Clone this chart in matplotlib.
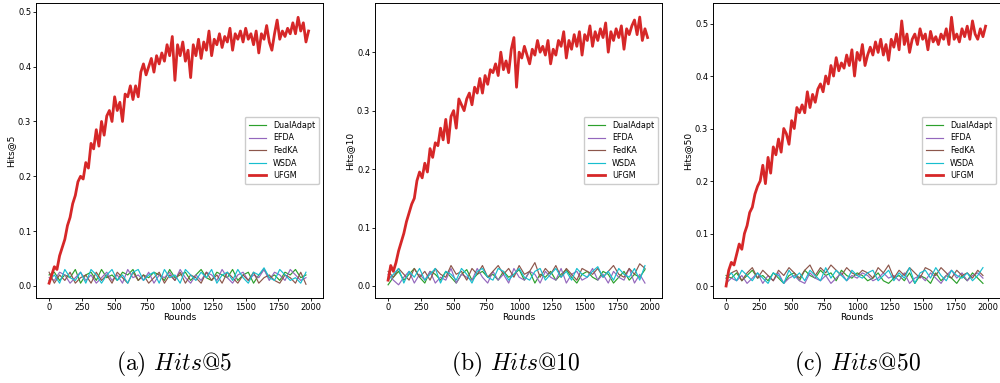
import numpy as np
import matplotlib
matplotlib.use('Agg')
from matplotlib import pyplot as plt

plt.rcParams['font.family'] = 'DejaVu Sans'
plt.rcParams['mathtext.fontset'] = 'cm'

# rounds for UFGM (every 20) and for the baselines (every 40)
rounds_ufgm = list(range(0, 2000, 20))
rounds_base = list(range(0, 2000, 40))

methods = ['DualAdapt', 'EFDA', 'FedKA', 'WSDA', 'UFGM']
colors = ['#2ca02c', '#9467bd', '#8c564b', '#17becf', '#d62728']
ylabels = ['Hits@5', 'Hits@10', 'Hits@50']
captions = ['(a) $Hits$@5', '(b) $Hits$@10', '(c) $Hits$@50']

# ---- Hits@5 ----
ufgm_h5 = [0.005, 0.020, 0.035, 0.030, 0.055, 0.070, 0.085, 0.110, 0.125, 0.150,
           0.165, 0.190, 0.200, 0.195, 0.225, 0.215, 0.260, 0.250, 0.285, 0.255,
           0.300, 0.275, 0.310, 0.320, 0.300, 0.345, 0.320, 0.335, 0.300, 0.350,
           0.345, 0.365, 0.340, 0.365, 0.345, 0.390, 0.405, 0.385, 0.400, 0.415,
           0.390, 0.420, 0.405, 0.425, 0.410, 0.440, 0.420, 0.455, 0.375, 0.440,
           0.420, 0.445, 0.410, 0.430, 0.380, 0.440, 0.420, 0.450, 0.415, 0.445,
           0.430, 0.465, 0.420, 0.450, 0.440, 0.460, 0.435, 0.455, 0.445, 0.470,
           0.430, 0.460, 0.450, 0.465, 0.445, 0.470, 0.450, 0.460, 0.440, 0.465,
           0.425, 0.460, 0.450, 0.475, 0.445, 0.430, 0.460, 0.485, 0.450, 0.465,
           0.455, 0.470, 0.460, 0.480, 0.460, 0.490, 0.465, 0.480, 0.445, 0.465]
dual_h5 = [0.020, 0.025, 0.010, 0.020, 0.015, 0.030, 0.005, 0.020, 0.025, 0.010,
           0.030, 0.015, 0.020, 0.010, 0.025, 0.020, 0.030, 0.010, 0.020, 0.015,
           0.025, 0.020, 0.010, 0.030, 0.015, 0.020, 0.025, 0.010, 0.020, 0.030,
           0.015, 0.010, 0.025, 0.020, 0.015, 0.030, 0.010, 0.020, 0.025, 0.005,
           0.020, 0.030, 0.015, 0.020, 0.010, 0.025, 0.020, 0.030, 0.015, 0.020]
efda_h5 = [0.015, 0.010, 0.025, 0.020, 0.005, 0.015, 0.025, 0.010, 0.020, 0.005,
           0.015, 0.025, 0.010, 0.020, 0.005, 0.030, 0.015, 0.020, 0.010, 0.025,
           0.005, 0.020, 0.015, 0.025, 0.010, 0.030, 0.015, 0.005, 0.020, 0.010,
           0.025, 0.020, 0.010, 0.030, 0.015, 0.005, 0.020, 0.025, 0.010, 0.020,
           0.015, 0.030, 0.010, 0.025, 0.020, 0.010, 0.030, 0.020, 0.010, 0.015]
fedka_h5 = [0.025, 0.005, 0.020, 0.010, 0.025, 0.005, 0.015, 0.020, 0.005, 0.025,
            0.010, 0.020, 0.005, 0.025, 0.015, 0.005, 0.025, 0.010, 0.020, 0.005,
            0.015, 0.025, 0.005, 0.020, 0.010, 0.025, 0.005, 0.020, 0.015, 0.005,
            0.025, 0.010, 0.020, 0.005, 0.025, 0.015, 0.005, 0.020, 0.010, 0.025,
            0.005, 0.015, 0.020, 0.010, 0.005, 0.020, 0.015, 0.005, 0.025, 0.003]
wsda_h5 = [0.010, 0.020, 0.005, 0.030, 0.015, 0.010, 0.025, 0.005, 0.030, 0.020,
           0.005, 0.020, 0.030, 0.010, 0.020, 0.005, 0.025, 0.030, 0.010, 0.020,
           0.025, 0.005, 0.030, 0.015, 0.020, 0.005, 0.030, 0.020, 0.010, 0.025,
           0.015, 0.030, 0.005, 0.020, 0.025, 0.010, 0.030, 0.015, 0.005, 0.025,
           0.020, 0.033, 0.015, 0.010, 0.030, 0.020, 0.010, 0.015, 0.005, 0.025]

# ---- Hits@10 ----
ufgm_h10 = [0.010, 0.035, 0.025, 0.040, 0.060, 0.075, 0.090, 0.110, 0.125, 0.140,
            0.150, 0.180, 0.195, 0.185, 0.210, 0.195, 0.235, 0.220, 0.245, 0.240,
            0.270, 0.250, 0.285, 0.245, 0.290, 0.300, 0.270, 0.320, 0.310, 0.300,
            0.320, 0.330, 0.310, 0.340, 0.330, 0.355, 0.330, 0.360, 0.345, 0.370,
            0.365, 0.380, 0.360, 0.400, 0.370, 0.385, 0.365, 0.405, 0.425, 0.340,
            0.400, 0.390, 0.410, 0.395, 0.380, 0.405, 0.395, 0.420, 0.400, 0.410,
            0.395, 0.420, 0.380, 0.405, 0.395, 0.420, 0.410, 0.435, 0.390, 0.420,
            0.405, 0.430, 0.410, 0.435, 0.395, 0.430, 0.420, 0.445, 0.410, 0.435,
            0.420, 0.440, 0.425, 0.450, 0.400, 0.435, 0.420, 0.440, 0.425, 0.445,
            0.405, 0.440, 0.430, 0.445, 0.455, 0.430, 0.460, 0.420, 0.440, 0.425]
dual_h10 = [0.002, 0.015, 0.025, 0.010, 0.020, 0.030, 0.015, 0.005, 0.025, 0.020,
            0.010, 0.025, 0.015, 0.005, 0.020, 0.028, 0.010, 0.020, 0.025, 0.015,
            0.020, 0.010, 0.025, 0.015, 0.020, 0.028, 0.010, 0.025, 0.005, 0.020,
            0.015, 0.025, 0.010, 0.020, 0.028, 0.015, 0.005, 0.020, 0.025, 0.015,
            0.010, 0.025, 0.020, 0.005, 0.015, 0.025, 0.010, 0.020, 0.015, 0.028]
efda_h10 = [0.020, 0.010, 0.002, 0.015, 0.025, 0.005, 0.020, 0.010, 0.025, 0.005,
            0.015, 0.010, 0.030, 0.005, 0.020, 0.015, 0.010, 0.030, 0.015, 0.005,
            0.025, 0.010, 0.020, 0.005, 0.030, 0.015, 0.010, 0.025, 0.020, 0.005,
            0.025, 0.015, 0.010, 0.030, 0.005, 0.020, 0.025, 0.010, 0.015, 0.030,
            0.010, 0.020, 0.005, 0.025, 0.015, 0.010, 0.030, 0.005, 0.020, 0.005]
fedka_h10 = [0.025, 0.015, 0.030, 0.020, 0.010, 0.030, 0.015, 0.025, 0.010, 0.030,
             0.020, 0.015, 0.035, 0.020, 0.025, 0.010, 0.030, 0.020, 0.035, 0.015,
             0.025, 0.035, 0.020, 0.030, 0.015, 0.035, 0.020, 0.025, 0.040, 0.015,
             0.030, 0.020, 0.035, 0.015, 0.030, 0.020, 0.010, 0.030, 0.025, 0.020,
             0.030, 0.015, 0.025, 0.035, 0.020, 0.015, 0.030, 0.020, 0.038, 0.030]
wsda_h10 = [0.010, 0.020, 0.030, 0.005, 0.025, 0.015, 0.030, 0.010, 0.020, 0.030,
            0.005, 0.025, 0.020, 0.010, 0.030, 0.020, 0.005, 0.025, 0.030, 0.015,
            0.010, 0.030, 0.025, 0.010, 0.020, 0.030, 0.015, 0.010, 0.025, 0.030,
            0.010, 0.020, 0.030, 0.015, 0.025, 0.010, 0.030, 0.020, 0.015, 0.025,
            0.033, 0.015, 0.025, 0.010, 0.030, 0.020, 0.015, 0.030, 0.010, 0.035]

# ---- Hits@50 ----
ufgm_h50 = [0.000, 0.030, 0.045, 0.040, 0.060, 0.080, 0.070, 0.100, 0.115, 0.140,
            0.150, 0.175, 0.190, 0.200, 0.230, 0.195, 0.245, 0.215, 0.265, 0.250,
            0.280, 0.255, 0.300, 0.290, 0.270, 0.315, 0.300, 0.340, 0.330, 0.345,
            0.330, 0.370, 0.340, 0.365, 0.350, 0.375, 0.385, 0.370, 0.400, 0.385,
            0.420, 0.400, 0.435, 0.410, 0.425, 0.415, 0.440, 0.420, 0.450, 0.400,
            0.445, 0.430, 0.460, 0.420, 0.440, 0.455, 0.440, 0.465, 0.445, 0.470,
            0.440, 0.460, 0.430, 0.470, 0.455, 0.480, 0.450, 0.505, 0.460, 0.480,
            0.445, 0.470, 0.480, 0.460, 0.490, 0.470, 0.480, 0.450, 0.485, 0.465,
            0.475, 0.460, 0.480, 0.470, 0.490, 0.460, 0.512, 0.470, 0.480, 0.465,
            0.490, 0.475, 0.495, 0.470, 0.505, 0.480, 0.470, 0.490, 0.475, 0.495]
dual_h50 = [0.020, 0.015, 0.025, 0.010, 0.020, 0.030, 0.015, 0.020, 0.010, 0.025,
            0.015, 0.005, 0.020, 0.025, 0.010, 0.030, 0.020, 0.015, 0.030, 0.020,
            0.025, 0.010, 0.030, 0.020, 0.015, 0.025, 0.020, 0.010, 0.015, 0.025,
            0.010, 0.005, 0.015, 0.020, 0.010, 0.025, 0.005, 0.020, 0.015, 0.005,
            0.025, 0.010, 0.020, 0.015, 0.005, 0.020, 0.010, 0.025, 0.015, 0.005]
efda_h50 = [0.005, 0.015, 0.010, 0.020, 0.005, 0.015, 0.025, 0.005, 0.020, 0.010,
            0.025, 0.005, 0.015, 0.020, 0.010, 0.005, 0.025, 0.015, 0.010, 0.020,
            0.005, 0.015, 0.025, 0.010, 0.020, 0.015, 0.025, 0.020, 0.010, 0.015,
            0.025, 0.015, 0.020, 0.010, 0.025, 0.005, 0.015, 0.020, 0.010, 0.025,
            0.015, 0.005, 0.020, 0.030, 0.015, 0.025, 0.010, 0.020, 0.025, 0.015]
fedka_h50 = [0.015, 0.025, 0.030, 0.010, 0.025, 0.035, 0.015, 0.030, 0.020, 0.010,
             0.030, 0.020, 0.035, 0.025, 0.015, 0.030, 0.040, 0.020, 0.035, 0.025,
             0.040, 0.030, 0.020, 0.035, 0.025, 0.020, 0.030, 0.025, 0.015, 0.035,
             0.025, 0.040, 0.015, 0.030, 0.020, 0.035, 0.025, 0.015, 0.035, 0.030,
             0.020, 0.035, 0.025, 0.015, 0.030, 0.020, 0.025, 0.015, 0.030, 0.020]
wsda_h50 = [0.015, 0.025, 0.010, 0.030, 0.020, 0.010, 0.025, 0.015, 0.005, 0.025,
            0.020, 0.005, 0.030, 0.015, 0.025, 0.010, 0.030, 0.020, 0.010, 0.035,
            0.015, 0.030, 0.020, 0.010, 0.030, 0.020, 0.015, 0.025, 0.030, 0.010,
            0.020, 0.030, 0.010, 0.025, 0.015, 0.035, 0.005, 0.025, 0.030, 0.015,
            0.035, 0.020, 0.010, 0.030, 0.020, 0.015, 0.025, 0.010, 0.020, 0.035]

panels = [
    [dual_h5, efda_h5, fedka_h5, wsda_h5, ufgm_h5],
    [dual_h10, efda_h10, fedka_h10, wsda_h10, ufgm_h10],
    [dual_h50, efda_h50, fedka_h50, wsda_h50, ufgm_h50],
]
ylims = [(-0.022, 0.516), (-0.0205, 0.484), (-0.0228, 0.539)]
lefts = [0.036, 0.375, 0.713]
cap_x = [0.174, 0.516, 0.857]

fig = plt.figure(figsize=(10, 3.83), dpi=100)

for i in range(3):
    ax = fig.add_axes([lefts[i], 0.222, 0.287, 0.770])
    series = panels[i]
    for j in range(4):
        ax.plot(rounds_base, series[j], color=colors[j], lw=0.85, label=methods[j])
    ax.plot(rounds_ufgm, series[4], color=colors[4], lw=2.0, label=methods[4])
    ax.set_xlim(-100, 2090)
    ax.set_ylim(ylims[i])
    ax.set_xticks([0, 250, 500, 750, 1000, 1250, 1500, 1750, 2000])
    ax.tick_params(labelsize=6, length=2, width=0.6, pad=1.5)
    ax.set_xlabel('Rounds', fontsize=6.5, labelpad=0.5)
    ax.set_ylabel(ylabels[i], fontsize=6.5, labelpad=2)
    for s in ax.spines.values():
        s.set_linewidth(0.7)
    ax.legend(loc='center right', fontsize=5.8, handlelength=2.2, borderpad=0.5,
              labelspacing=0.45, framealpha=1)
    fig.text(cap_x[i], 0.034, captions[i], ha='center', va='baseline',
             fontsize=17, family=['cmr10', 'DejaVu Serif'])

fig.savefig('out.png', dpi=100)
